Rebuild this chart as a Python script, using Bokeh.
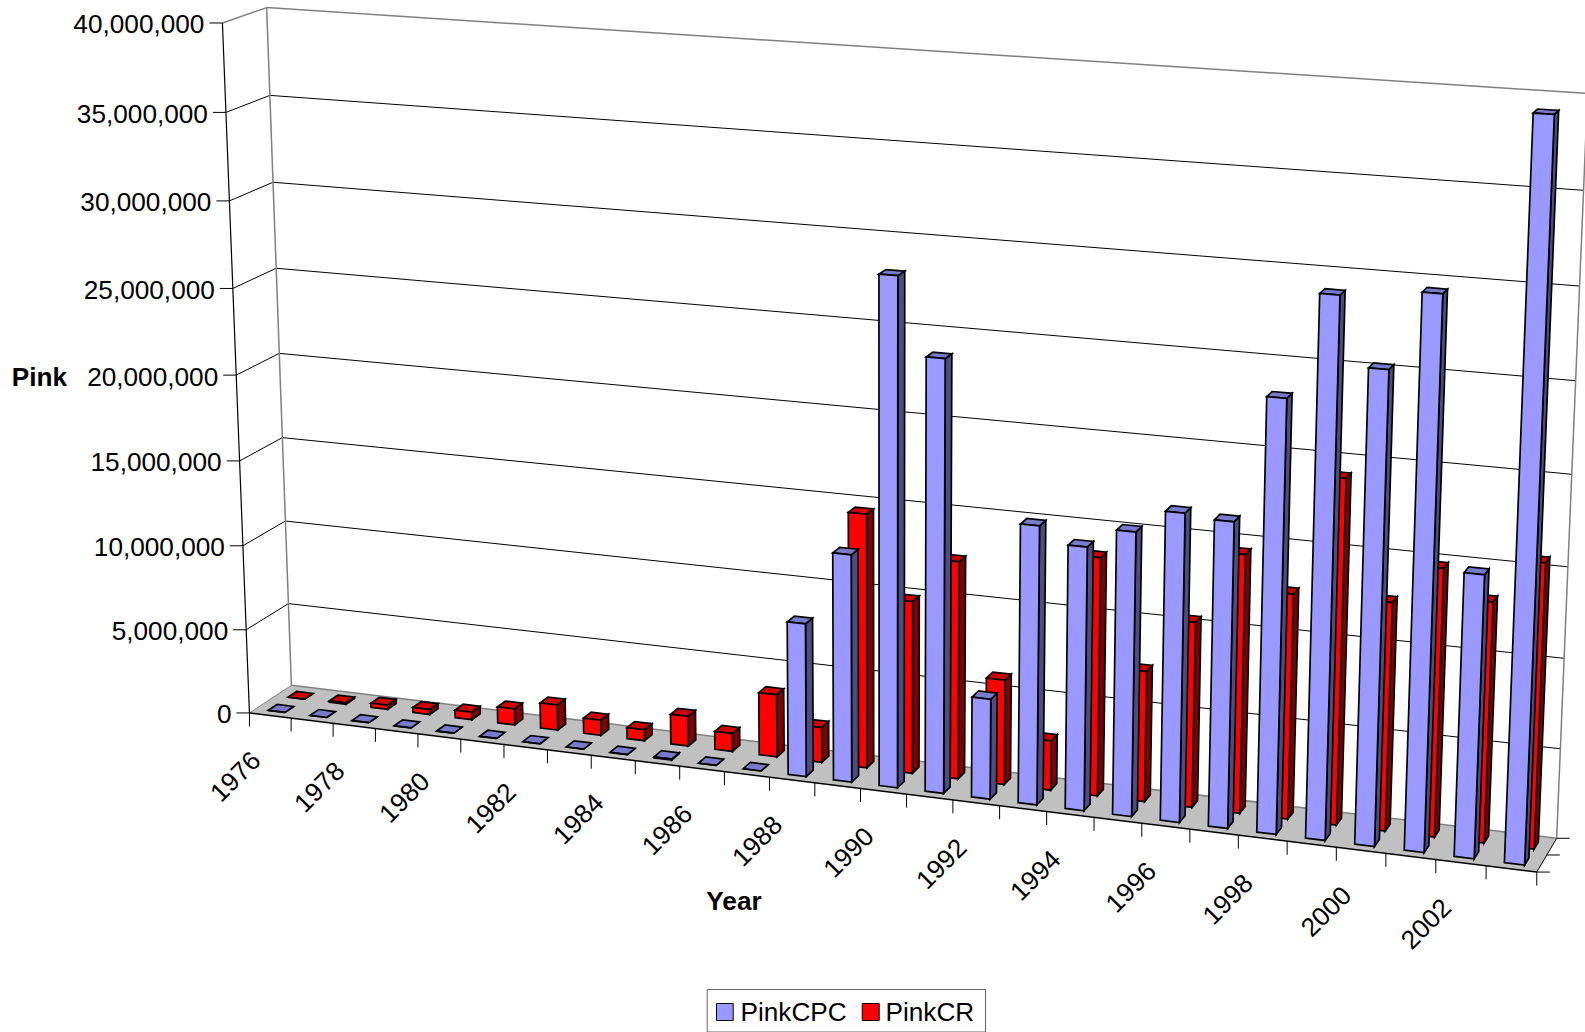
import numpy as np
from bokeh.plotting import figure
from bokeh.embed import file_html
from bokeh.resources import INLINE
from bokeh.core.properties import value

years = list(range(1976, 2004))
pink_cpc = [0, 0, 0, 0, 0, 0, 0, 0, 0, 50000, 0, 0,
            8800000, 13000000, 28700000, 24400000, 5700000, 15700000, 14800000, 15900000,
            17200000, 17000000, 23900000, 29600000, 25900000, 30100000, 15500000, 39700000]
pink_cr = [0, 80000, 250000, 300000, 450000, 950000, 1500000, 900000, 650000, 1750000, 1050000, 3640000,
           2030000, 14600000, 9900000, 12450000, 6000000, 2830000, 13500000, 7400000,
           10450000, 14500000, 12600000, 19200000, 12700000, 14850000, 13300000, 15700000]
value_ticks = [0, 5000000, 10000000, 15000000, 20000000, 25000000, 30000000, 35000000, 40000000]
y_title = "Pink"
x_title = "Year"
series_names = ["PinkCPC", "PinkCR"]

FONT = value("Liberation Sans")
FS = "26.2px"
W, H = 1585, 1032
VMAX = 40000000.0
N = len(years)

# camera calibration of the 3D box: (category 0-1, depth 0-1, height 0-1) -> page pixel
calib = [
    (0, 0, 0, 249.3, 712.7), (0, 0, 1, 221.7, 22.0),
    (0, 1, 0, 290.7, 684.0), (0, 1, 1, 266.7, 7.3),
    (1, 0, 0, 1535.7, 871.7), (1, 1, 0, 1556.7, 837.3), (1, 1, 1, 1587.0, 93.0),
    (1/28, 0, 0, 290.7, 717.9), (14/28, 0, 0, 860.0, 788.2), (27/28, 0, 0, 1485.7, 865.5),
    (0, 0, 0.5, 236.0, 374.0), (0, 1, 0.5, 278.0, 354.0),
]
A = []
for x, d, z, u, v in calib:
    u, v = u / 1000, v / 1000
    A.append([x, d, z, 1, 0, 0, 0, 0, -u*x, -u*d, -u*z, -u])
    A.append([0, 0, 0, 0, x, d, z, 1, -v*x, -v*d, -v*z, -v])
M = np.linalg.svd(np.array(A))[2][-1].reshape(3, 4)


def proj(x, d, z):
    q = M @ np.array([x, d, z, 1.0])
    return float(q[0] / q[2] * 1000), float(q[1] / q[2] * 1000)


def poly(pts):
    s = [proj(*a) for a in pts]
    return [a[0] for a in s], [a[1] for a in s]


p = figure(width=W, height=H, x_range=(0, W), y_range=(H, 0), output_backend="svg",
           toolbar_location=None, x_axis_location=None, y_axis_location=None,
           min_border=0, outline_line_color=None,
           background_fill_color="white", border_fill_color="white")
p.grid.visible = False


def seg(a, b, color="#000000", w=1.0):
    (x0, y0), (x1, y1) = proj(*a), proj(*b)
    p.line([x0, x1], [y0, y1], line_color=color, line_width=w)


# grid lines on side wall and back wall
for t in value_ticks[1:-1]:
    z = t / VMAX
    seg((0, 0, z), (0, 1, z))
    seg((0, 1, z), (1, 1, z))
GRAY = "#808080"
seg((0, 0, 1), (0, 1, 1), GRAY, 1.5)
seg((0, 1, 1), (1, 1, 1), GRAY, 1.5)
seg((0, 1, 0), (0, 1, 1), GRAY, 1.5)
seg((1, 1, 0), (1, 1, 1), GRAY, 1.5)

# floor
fx, fy = poly([(0, 0, 0), (1, 0, 0), (1, 1, 0), (0, 1, 0)])
p.patch(fx, fy, fill_color="#C0C0C0", line_color=None)
seg((0, 1, 0), (1, 1, 0), GRAY, 1.5)
seg((0, 0, 0), (0, 1, 0), GRAY, 1.0)
seg((1, 0, 0), (1, 1, 0), "#000000", 1.0)
seg((0, 0, 0), (1, 0, 0), "#000000", 1.5)
seg((0, 0, 0), (0, 0, 1), "#000000", 1.2)

# value ticks and labels
for t in value_ticks:
    x, y = proj(0, 0, t / VMAX)
    p.line([x - 13, x], [y, y], line_color="#000000", line_width=1)
    p.text([x - 18], [y + 1.5], text=[f"{t:,}"], text_font=FONT, text_font_size=FS,
           text_align="right", text_baseline="middle", text_color="#000000")

# category ticks and labels
for i in range(N + 1):
    x, y = proj(i / N, 0, 0)
    p.line([x, x], [y, y + 13.5], line_color="#000000", line_width=1)
for i in range(0, N, 2):
    x, y = proj((i + 0.5) / N, 0, 0)
    p.text([x - 35], [y + 61], text=[str(years[i])], text_font=FONT, text_font_size=FS,
           text_align="center", text_baseline="middle", angle=45, angle_units="deg",
           text_color="#000000")

# depth ticks
for d in (0, 0.5, 1):
    x, y = proj(1, d, 0)
    p.line([x, x + 13], [y, y], line_color="#000000", line_width=1)


def row(values, d0, d1, front, side, top):
    faces = {"s": ([], []), "t": ([], []), "f": ([], [])}
    for i, val in enumerate(values):
        a, b = (i + 0.3) / N, (i + 0.7) / N
        z = val / VMAX
        for key, pts in (
            ("s", [(b, d0, 0), (b, d1, 0), (b, d1, z), (b, d0, z)]),
            ("t", [(a, d0, z), (b, d0, z), (b, d1, z), (a, d1, z)]),
            ("f", [(a, d0, 0), (b, d0, 0), (b, d0, z), (a, d0, z)]),
        ):
            xs, ys = poly(pts)
            faces[key][0].append(xs)
            faces[key][1].append(ys)
    for key, col in (("s", side), ("t", top), ("f", front)):
        p.patches(faces[key][0], faces[key][1], fill_color=col, line_color="#000000",
                  line_width=1.7, line_join="miter")


row(pink_cr, 0.62, 0.83, "#FF0000", "#800000", "#CC0000")
row(pink_cpc, 0.15, 0.36, "#9999FF", "#4D4D80", "#7A7ACC")

# axis titles
p.text([39], [376], text=[y_title], text_font=FONT, text_font_size=FS, text_font_style="bold",
       text_align="center", text_baseline="middle", text_color="#000000")
p.text([733.5], [900], text=[x_title], text_font=FONT, text_font_size=FS, text_font_style="bold",
       text_align="center", text_baseline="middle", text_color="#000000")

# legend
p.quad(left=[706.7], right=[985], top=[989], bottom=[1031.5], fill_color="#FFFFFF",
       line_color="#666666", line_width=1)
p.quad(left=[716], right=[732.7], top=[1003], bottom=[1020], fill_color="#9999FF",
       line_color="#000000", line_width=1)
p.quad(left=[861.7], right=[878.7], top=[1003], bottom=[1020], fill_color="#FF0000",
       line_color="#000000", line_width=1)
p.text([740], [1011.2], text=[series_names[0]], text_font=FONT, text_font_size=FS,
       text_align="left", text_baseline="middle", text_color="#000000")
p.text([885], [1011.2], text=[series_names[1]], text_font=FONT, text_font_size=FS,
       text_align="left", text_baseline="middle", text_color="#000000")

open("out.html", "w").write(file_html(p, INLINE))
